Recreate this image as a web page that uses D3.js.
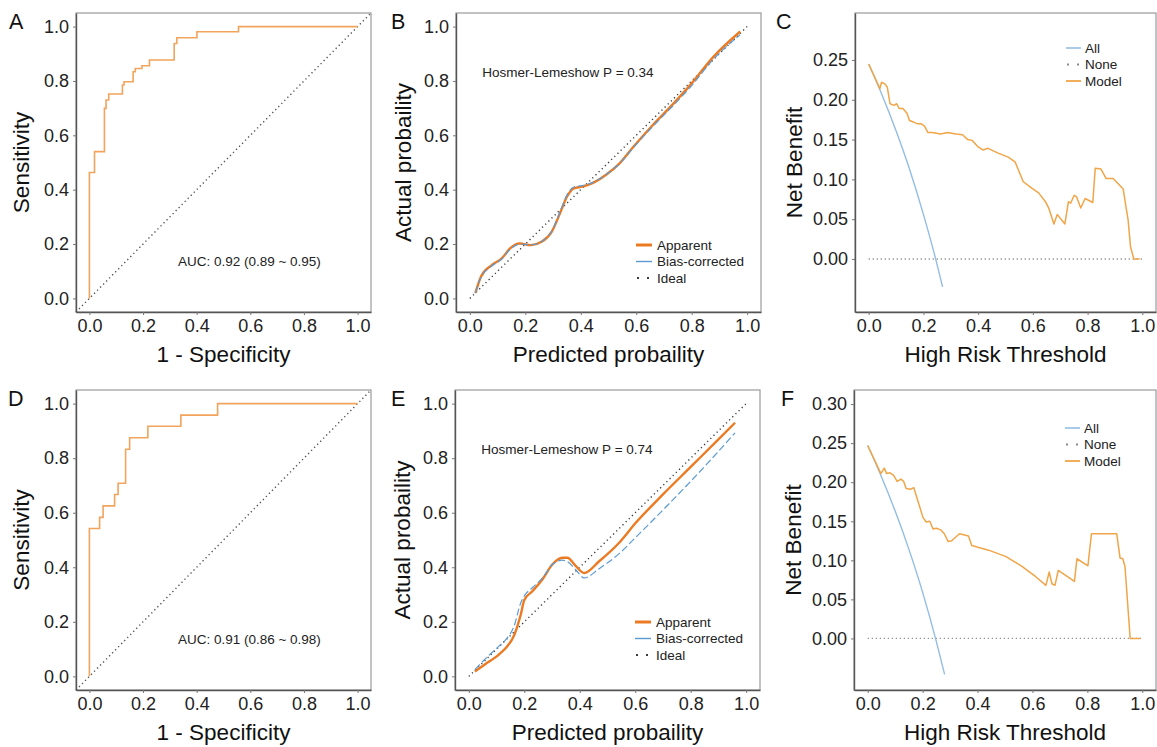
<!DOCTYPE html>
<html>
<head>
<meta charset="utf-8">
<script src="https://cdn.jsdelivr.net/npm/d3@7/dist/d3.min.js"></script>
<style>
  body { margin: 0; background: #fff; }
  svg text { font-family: "Liberation Sans", Arial, sans-serif; }
</style>
</head>
<body>
<svg id="fig" width="1157" height="747"></svg>
<script>
// ---- ROC curves (step corners: fpr, tpr) ----
const rocFprA = [0, 0, 0.019, 0.056, 0.062, 0.072, 0.123, 0.129, 0.163, 0.171, 0.196, 0.224, 0.316, 0.326, 0.401, 0.556, 1.0];
const rocTprA = [0, 0.463, 0.540, 0.699, 0.730, 0.752, 0.785, 0.797, 0.834, 0.846, 0.856, 0.877, 0.938, 0.959, 0.981, 1.0, 1.0];
const rocFprD = [0, 0, 0.038, 0.051, 0.094, 0.107, 0.135, 0.150, 0.218, 0.341, 0.478, 1.0];
const rocTprD = [0, 0.542, 0.583, 0.625, 0.667, 0.708, 0.833, 0.875, 0.917, 0.958, 1.0, 1.0];
const aucA = "AUC: 0.92 (0.89 ~ 0.95)";
const aucD = "AUC: 0.91 (0.86 ~ 0.98)";

// ---- calibration curves ----
const predB     = [0.02, 0.04, 0.08, 0.115, 0.145, 0.18, 0.22, 0.26, 0.295, 0.325, 0.35, 0.375, 0.405, 0.44, 0.49, 0.54, 0.59, 0.66, 0.73, 0.80, 0.875, 0.975];
const apparentB = [0.02, 0.08, 0.123, 0.147, 0.184, 0.202, 0.196, 0.209, 0.245, 0.313, 0.374, 0.405, 0.411, 0.423, 0.454, 0.497, 0.558, 0.638, 0.712, 0.791, 0.885, 0.982];
const biasB     = [0.02, 0.078, 0.12, 0.145, 0.18, 0.2, 0.197, 0.21, 0.247, 0.318, 0.38, 0.41, 0.415, 0.425, 0.455, 0.496, 0.555, 0.633, 0.706, 0.783, 0.876, 0.97];
const predE     = [0.022, 0.06, 0.108, 0.133, 0.163, 0.187, 0.2, 0.229, 0.265, 0.301, 0.337, 0.355, 0.386, 0.416, 0.47, 0.542, 0.602, 0.7, 0.8, 0.9, 0.96];
const apparentE = [0.018, 0.045, 0.08, 0.104, 0.15, 0.226, 0.28, 0.312, 0.355, 0.41, 0.435, 0.435, 0.404, 0.379, 0.422, 0.49, 0.563, 0.667, 0.768, 0.869, 0.93];
const biasE     = [0.025, 0.065, 0.11, 0.135, 0.184, 0.269, 0.295, 0.325, 0.36, 0.41, 0.426, 0.421, 0.39, 0.361, 0.395, 0.45, 0.51, 0.61, 0.715, 0.825, 0.893];
const hlB = "Hosmer-Lemeshow P = 0.34";
const hlE = "Hosmer-Lemeshow P = 0.74";
const calLegend = ["Apparent", "Bias-corrected", "Ideal"];

// ---- decision curves ----
const threshC = [0, 0.041, 0.047, 0.059, 0.068, 0.078, 0.093, 0.102, 0.112, 0.125, 0.140, 0.149, 0.164, 0.177, 0.191, 0.204, 0.216, 0.232, 0.263, 0.288, 0.319, 0.343, 0.362, 0.378, 0.399, 0.417, 0.436, 0.473, 0.510, 0.535, 0.547, 0.565, 0.596, 0.621, 0.646, 0.658, 0.677, 0.689, 0.717, 0.730, 0.738, 0.751, 0.760, 0.775, 0.791, 0.819, 0.828, 0.849, 0.868, 0.893, 0.905, 0.930, 0.940, 0.948, 0.957, 0.969, 0.99];
const modelC  = [0.245, 0.214, 0.222, 0.220, 0.216, 0.195, 0.193, 0.195, 0.189, 0.189, 0.183, 0.174, 0.172, 0.170, 0.170, 0.167, 0.159, 0.159, 0.157, 0.159, 0.157, 0.156, 0.150, 0.149, 0.141, 0.137, 0.139, 0.133, 0.128, 0.122, 0.112, 0.097, 0.089, 0.083, 0.072, 0.064, 0.044, 0.056, 0.044, 0.072, 0.070, 0.080, 0.078, 0.064, 0.076, 0.071, 0.114, 0.113, 0.101, 0.101, 0.097, 0.088, 0.066, 0.049, 0.015, 0, 0];
const allThreshC = [0, 0.05, 0.10, 0.15, 0.20, 0.25, 0.27];
const allC       = [0.245, 0.205, 0.161, 0.112, 0.056, -0.007, -0.035];

const threshF = [0, 0.048, 0.060, 0.069, 0.081, 0.094, 0.107, 0.121, 0.131, 0.140, 0.156, 0.168, 0.179, 0.189, 0.201, 0.213, 0.226, 0.238, 0.250, 0.266, 0.279, 0.293, 0.306, 0.334, 0.367, 0.379, 0.440, 0.502, 0.563, 0.612, 0.649, 0.661, 0.671, 0.682, 0.694, 0.753, 0.762, 0.802, 0.815, 0.907, 0.919, 0.929, 0.937, 0.956, 0.993];
const modelF  = [0.247, 0.211, 0.218, 0.211, 0.212, 0.209, 0.201, 0.204, 0.201, 0.192, 0.191, 0.193, 0.180, 0.169, 0.155, 0.149, 0.150, 0.140, 0.141, 0.139, 0.134, 0.124, 0.125, 0.134, 0.131, 0.119, 0.113, 0.105, 0.092, 0.079, 0.068, 0.085, 0.070, 0.068, 0.087, 0.073, 0.102, 0.093, 0.134, 0.134, 0.103, 0.102, 0.092, 0, 0];
const allThreshF = [0, 0.05, 0.10, 0.15, 0.20, 0.25, 0.28];
const allF       = [0.247, 0.207, 0.163, 0.114, 0.059, -0.004, -0.046];
const dcaLegend = ["All", "None", "Model"];

// ---- tick values ----
const probTicks = [0, 0.2, 0.4, 0.6, 0.8, 1.0];
const nbTicksC = [0, 0.05, 0.10, 0.15, 0.20, 0.25];
const nbTicksF = [0, 0.05, 0.10, 0.15, 0.20, 0.25, 0.30];

const COL = {
  roc: "#F2A35C",
  apparent: "#EC7A22",
  bias: "#5B9BD5",
  model: "#F0A548",
  all: "#93BDE3",
  ideal: "#3a3a3a",
  none: "#8a8a8a"
};

const svg = d3.select("#fig");
const zip = (xs, ys) => xs.map((x, i) => [x, ys[i]]);

// Build one panel frame + axes, return scales and group
function makePanel(o) {
  const g = svg.append("g");
  const x = d3.scaleLinear().domain(o.xDomain).range([o.left, o.right]);
  const y = d3.scaleLinear().domain(o.yDomain).range([o.bottom, o.top]);

  g.append("rect")
    .attr("x", o.left).attr("y", o.top)
    .attr("width", o.right - o.left).attr("height", o.bottom - o.top)
    .attr("fill", "none").attr("stroke", "#9a9a9a").attr("stroke-width", 1.2);

  const xa = g.append("g")
    .attr("transform", `translate(0,${o.bottom})`)
    .call(d3.axisBottom(x).tickValues(probTicks).tickFormat(d3.format(".1f"))
      .tickSize(3).tickSizeOuter(0).tickPadding(4));
  const ya = g.append("g")
    .attr("transform", `translate(${o.left},0)`)
    .call(d3.axisLeft(y).tickValues(o.yTicks).tickFormat(d3.format(o.yFmt))
      .tickSize(3).tickSizeOuter(0).tickPadding(4));

  [xa, ya].forEach(a => {
    a.select(".domain").attr("stroke", "#555").attr("stroke-width", 1.4);
    a.selectAll(".tick line").attr("stroke", "#777");
    a.selectAll(".tick text").attr("fill", "#222").style("font-size", "18px");
  });

  // axis titles
  g.append("text")
    .attr("x", (o.left + o.right) / 2).attr("y", o.bottom + 50)
    .attr("text-anchor", "middle").style("font-size", "22.5px").attr("fill", "#111")
    .text(o.xTitle);
  g.append("text")
    .attr("transform", `translate(${o.left - o.yTitleOff},${(o.top + o.bottom) / 2}) rotate(-90)`)
    .attr("text-anchor", "middle").style("font-size", "22.5px").attr("fill", "#111")
    .text(o.yTitle);

  // panel letter
  g.append("text")
    .attr("x", o.labelX).attr("y", o.top + 16)
    .style("font-size", "21.5px").attr("fill", "#111")
    .text(o.label);

  return { g, x, y };
}

function rocPanel(o, fpr, tpr, auc) {
  const p = makePanel(Object.assign({
    xDomain: [-0.05, 1.05], yDomain: [-0.05, 1.05], yTicks: probTicks, yFmt: ".1f",
    xTitle: "1 - Specificity", yTitle: "Sensitivity", yTitleOff: 47
  }, o));
  p.g.append("path")
    .attr("d", d3.line().x(d => p.x(d[0])).y(d => p.y(d[1]))([[-0.05, -0.05], [1.05, 1.05]]))
    .attr("stroke", "#555").attr("stroke-width", 1.4).attr("stroke-dasharray", "1.3 3")
    .attr("fill", "none");
  p.g.append("path")
    .attr("d", d3.line().curve(d3.curveStepAfter).x(d => p.x(d[0])).y(d => p.y(d[1]))(zip(fpr, tpr)))
    .attr("stroke", COL.roc).attr("stroke-width", 1.6).attr("fill", "none");
  p.g.append("text")
    .attr("x", p.x(0.33)).attr("y", p.y(0.12))
    .style("font-size", "13.5px").attr("fill", "#222")
    .text(auc);
}

function calPanel(o, pred, app, bias, hl) {
  const p = makePanel(Object.assign({
    xDomain: [-0.05, 1.05], yDomain: [-0.05, 1.05], yTicks: probTicks, yFmt: ".1f",
    xTitle: "Predicted probaility", yTitle: "Actual probaility", yTitleOff: 45
  }, o));
  const line = d3.line().curve(d3.curveMonotoneX).x(d => p.x(d[0])).y(d => p.y(d[1]));
  p.g.append("path")
    .attr("d", d3.line().x(d => p.x(d[0])).y(d => p.y(d[1]))([[0, 0], [1, 1]]))
    .attr("stroke", COL.ideal).attr("stroke-width", 1.4).attr("stroke-dasharray", "1.2 3.2")
    .attr("fill", "none");
  p.g.append("path").attr("d", line(zip(pred, app)))
    .attr("stroke", COL.apparent).attr("stroke-width", 2.4).attr("fill", "none");
  p.g.append("path").attr("d", line(zip(pred, bias)))
    .attr("stroke", COL.bias).attr("stroke-width", 1.2).attr("stroke-dasharray", "7 3")
    .attr("fill", "none");
  p.g.append("text")
    .attr("x", p.x(0.045)).attr("y", p.y(0.815))
    .style("font-size", "13.5px").attr("fill", "#222")
    .text(hl);

  // legend
  const lx = o.left + 180, ly = o.top + 232;
  calLegend.forEach((name, i) => {
    const yy = ly + i * 16.5;
    const key = p.g.append("line")
      .attr("x1", lx).attr("x2", lx + 16).attr("y1", yy).attr("y2", yy).attr("fill", "none");
    if (i === 0) key.attr("stroke", COL.apparent).attr("stroke-width", 3);
    if (i === 1) key.attr("stroke", COL.bias).attr("stroke-width", 1.4);
    if (i === 2) key.attr("stroke", COL.ideal).attr("stroke-width", 2.2)
      .attr("stroke-dasharray", "2 8").attr("x1", lx + 1);
    p.g.append("text").attr("x", lx + 21).attr("y", yy + 4.8)
      .style("font-size", "13.5px").attr("fill", "#222").text(name);
  });
}

function dcaPanel(o, th, model, allTh, all) {
  const p = makePanel(Object.assign({
    xDomain: [-0.05, 1.05], yFmt: ".2f",
    xTitle: "High Risk Threshold", yTitle: "Net Benefit", yTitleOff: 53
  }, o));
  const line = d3.line().x(d => p.x(d[0])).y(d => p.y(d[1]));
  p.g.append("path").attr("d", line([[0, 0], [1, 0]]))
    .attr("stroke", COL.none).attr("stroke-width", 1.3).attr("stroke-dasharray", "1.2 2.8")
    .attr("fill", "none");
  p.g.append("path").attr("d", line.curve(d3.curveMonotoneX)(zip(allTh, all)))
    .attr("stroke", COL.all).attr("stroke-width", 1.4).attr("fill", "none");
  p.g.append("path").attr("d", d3.line().x(d => p.x(d[0])).y(d => p.y(d[1]))(zip(th, model)))
    .attr("stroke", COL.model).attr("stroke-width", 1.5).attr("fill", "none")
    .attr("stroke-linejoin", "round");

  // legend
  const lx = o.left + 211, ly = o.top + o.legendDy;
  dcaLegend.forEach((name, i) => {
    const yy = ly + i * 16.5;
    const key = p.g.append("line")
      .attr("x1", lx).attr("x2", lx + 15).attr("y1", yy).attr("y2", yy);
    if (i === 0) key.attr("stroke", COL.all).attr("stroke-width", 1.6);
    if (i === 1) key.attr("stroke", COL.none).attr("stroke-width", 2.2)
      .attr("stroke-dasharray", "2 8").attr("x1", lx + 1);
    if (i === 2) key.attr("stroke", COL.model).attr("stroke-width", 1.8);
    p.g.append("text").attr("x", lx + 19).attr("y", yy + 4.8)
      .style("font-size", "13.5px").attr("fill", "#222").text(name);
  });
}

// top row
rocPanel({ left: 76, right: 371, top: 13, bottom: 312, label: "A", labelX: 9 }, rocFprA, rocTprA, aucA);
calPanel({ left: 456, right: 761, top: 13, bottom: 312, label: "B", labelX: 391 }, predB, apparentB, biasB, hlB);
dcaPanel({ left: 855, right: 1156, top: 13, bottom: 312, label: "C", labelX: 776,
  yDomain: [-0.0666, 0.309], yTicks: nbTicksC, legendDy: 35 }, threshC, modelC, allThreshC, allC);

// bottom row
rocPanel({ left: 76, right: 371, top: 390, bottom: 690, label: "D", labelX: 8 }, rocFprD, rocTprD, aucD);
calPanel({ left: 455, right: 760, top: 390, bottom: 690, label: "E", labelX: 391 }, predE, apparentE, biasE, hlE);
dcaPanel({ left: 854, right: 1156, top: 390, bottom: 690, label: "F", labelX: 781,
  yDomain: [-0.066, 0.318], yTicks: nbTicksF, legendDy: 38 }, threshF, modelF, allThreshF, allF);
</script>
</body>
</html>
